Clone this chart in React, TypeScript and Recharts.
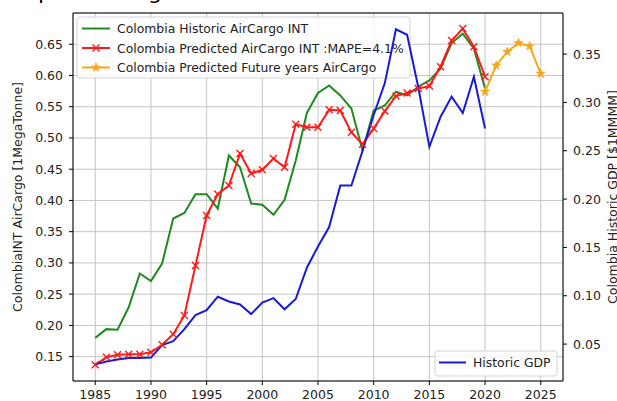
import React from 'react';
import { LineChart, Line, XAxis, YAxis, CartesianGrid, ReferenceLine, Customized } from 'recharts';

const years = [1985, 1986, 1987, 1988, 1989, 1990, 1991, 1992, 1993, 1994, 1995, 1996, 1997, 1998, 1999, 2000, 2001, 2002, 2003, 2004, 2005, 2006, 2007, 2008, 2009, 2010, 2011, 2012, 2013, 2014, 2015, 2016, 2017, 2018, 2019, 2020];
const historicAirCargo = [0.180, 0.194, 0.193, 0.229, 0.283, 0.271, 0.299, 0.371, 0.380, 0.410, 0.410, 0.387, 0.472, 0.453, 0.395, 0.393, 0.377, 0.401, 0.464, 0.540, 0.572, 0.584, 0.568, 0.547, 0.480, 0.544, 0.552, 0.574, 0.568, 0.582, 0.592, 0.611, 0.652, 0.667, 0.643, 0.579];
const predictedAirCargo = [0.137, 0.149, 0.153, 0.154, 0.154, 0.157, 0.169, 0.186, 0.216, 0.296, 0.376, 0.410, 0.424, 0.475, 0.443, 0.449, 0.467, 0.453, 0.522, 0.517, 0.517, 0.545, 0.544, 0.509, 0.490, 0.515, 0.543, 0.567, 0.572, 0.579, 0.583, 0.614, 0.656, 0.675, 0.646, 0.598];
const futureYears = [2020, 2021, 2022, 2023, 2024, 2025];
const futureAirCargo = [0.574, 0.616, 0.638, 0.652, 0.647, 0.603];
const historicGdp = [0.029, 0.032, 0.034, 0.0355, 0.0355, 0.036, 0.049, 0.053, 0.0655, 0.080, 0.085, 0.099, 0.094, 0.091, 0.081, 0.093, 0.0976, 0.086, 0.0966, 0.129, 0.151, 0.171, 0.214, 0.214, 0.250, 0.287, 0.320, 0.3756, 0.370, 0.316, 0.254, 0.285, 0.306, 0.289, 0.3265, 0.273];

const xTicks = [1985, 1990, 1995, 2000, 2005, 2010, 2015, 2020, 2025];
const leftTicks = [0.15, 0.2, 0.25, 0.3, 0.35, 0.4, 0.45, 0.5, 0.55, 0.6, 0.65];
const rightTicks = [0.05, 0.1, 0.15, 0.2, 0.25, 0.3, 0.35];

const seriesNames = {
  hist: 'Colombia Historic AirCargo INT',
  pred: 'Colombia Predicted AirCargo INT :MAPE=4.1%',
  future: 'Colombia Predicted Future years AirCargo',
  gdp: 'Historic GDP',
};
const yLabelLeft = 'ColombiaINT AirCargo [1MegaTonne]';
const yLabelRight = 'Colombia Historic GDP [$1MMMM]';

const allYears = Array.from(new Set([...years, ...futureYears])).sort((a, b) => a - b);
const data = allYears.map((yr) => {
  const i = years.indexOf(yr);
  const j = futureYears.indexOf(yr);
  return {
    year: yr,
    hist: i >= 0 ? historicAirCargo[i] : null,
    pred: i >= 0 ? predictedAirCargo[i] : null,
    gdp: i >= 0 ? historicGdp[i] : null,
    future: j >= 0 ? futureAirCargo[j] : null,
  };
});

const FONT = '"DejaVu Sans", sans-serif';
const GREEN = '#1f8a1f';
const RED = '#ff1a1a';
const ORANGE = '#f2a81d';
const BLUE = '#1a1ad6';

const XMark = ({ cx, cy, color }: any) => {
  const s = 3.5;
  return (
    <g>
      <line x1={cx - s} y1={cy - s} x2={cx + s} y2={cy + s} stroke={color} strokeWidth={1.4} />
      <line x1={cx - s} y1={cy + s} x2={cx + s} y2={cy - s} stroke={color} strokeWidth={1.4} />
    </g>
  );
};

const StarMark = ({ cx, cy, color }: any) => {
  const pts: string[] = [];
  for (let k = 0; k < 10; k++) {
    const r = k % 2 === 0 ? 5 : 2;
    const a = -Math.PI / 2 + (k * Math.PI) / 5;
    pts.push(`${cx + r * Math.cos(a)},${cy + r * Math.sin(a)}`);
  }
  return <polygon points={pts.join(' ')} fill={color} stroke={color} strokeWidth={0.5} />;
};

const redDot = (p: any) => {
  if (p.cx == null || p.cy == null || p.value == null) return <g key={`r${p.index}`} />;
  return <XMark key={`r${p.index}`} cx={p.cx} cy={p.cy} color={RED} />;
};
const orangeDot = (p: any) => {
  if (p.cx == null || p.cy == null || p.value == null) return <g key={`o${p.index}`} />;
  return <StarMark key={`o${p.index}`} cx={p.cx} cy={p.cy} color={ORANGE} />;
};

const Overlay = () => (
  <g fontFamily={FONT}>
    {/* clipped title descenders */}
    <text x={38} y={-1} fontSize={22} fill="#000">p</text>
    <text x={148} y={-1} fontSize={22} fill="#000">g</text>
    {/* axis labels */}
    <text x={17} y={197} transform="rotate(-90 17 197)" textAnchor="middle" dominantBaseline="central" fontSize={12.5} fill="#222">{yLabelLeft}</text>
    <text x={612} y={197} transform="rotate(-90 612 197)" textAnchor="middle" dominantBaseline="central" fontSize={12.5} fill="#222">{yLabelRight}</text>
    {/* upper left legend */}
    <rect x={77} y={17} width={333} height={61} rx={3} fill="#fff" fillOpacity={0.85} stroke="#d4d4d4" />
    <line x1={82} y1={28.5} x2={110} y2={28.5} stroke={GREEN} strokeWidth={2} />
    <text x={117} y={28.5} dominantBaseline="central" fontSize={12.4} fill="#222">{seriesNames.hist}</text>
    <line x1={82} y1={48} x2={110} y2={48} stroke={RED} strokeWidth={2} />
    <XMark cx={96} cy={48} color={RED} />
    <text x={117} y={48} dominantBaseline="central" fontSize={12.4} fill="#222">{seriesNames.pred}</text>
    <line x1={82} y1={67.5} x2={110} y2={67.5} stroke={ORANGE} strokeWidth={2} />
    <StarMark cx={96} cy={67.5} color={ORANGE} />
    <text x={117} y={67.5} dominantBaseline="central" fontSize={12.4} fill="#222">{seriesNames.future}</text>
    {/* lower right legend */}
    <rect x={435} y={351} width={122} height={25} rx={3} fill="#fff" fillOpacity={0.85} stroke="#d4d4d4" />
    <line x1={439} y1={362.5} x2={466} y2={362.5} stroke={BLUE} strokeWidth={2} />
    <text x={473} y={362.5} dominantBaseline="central" fontSize={12.4} fill="#222">{seriesNames.gdp}</text>
  </g>
);

const tickStyle = { fontSize: 12.5, fill: '#222', fontFamily: FONT };

export default function App() {
  return (
    <div style={{ position: 'absolute', left: 0, top: 0, width: 617, height: 401, background: '#fff' }}>
      <LineChart width={617} height={401} data={data} margin={{ top: 13, right: 0, bottom: 0, left: 0 }} style={{ overflow: 'visible' }}>
        <CartesianGrid yAxisId="left" stroke="#c4c4c4" strokeWidth={1} />
        <XAxis
          type="number"
          dataKey="year"
          domain={[1983, 2027]}
          ticks={xTicks}
          allowDataOverflow
          height={20}
          tickSize={4}
          tickMargin={5}
          tick={tickStyle}
          stroke="#000"
          axisLine={{ stroke: '#000' }}
          tickLine={{ stroke: '#000' }}
          interval={0}
        />
        <YAxis
          yAxisId="left"
          domain={[0.111, 0.7]}
          ticks={leftTicks}
          allowDataOverflow
          width={73}
          tickSize={4}
          tickMargin={6}
          tick={tickStyle}
          tickFormatter={(v: number) => v.toFixed(2)}
          axisLine={{ stroke: '#000' }}
          tickLine={{ stroke: '#000' }}
          interval={0}
        />
        <YAxis
          yAxisId="right"
          orientation="right"
          domain={[0.0118, 0.3925]}
          ticks={rightTicks}
          allowDataOverflow
          width={54}
          tickSize={4}
          tickMargin={6}
          tick={tickStyle}
          tickFormatter={(v: number) => v.toFixed(2)}
          axisLine={{ stroke: '#000' }}
          tickLine={{ stroke: '#000' }}
          interval={0}
        />
        <ReferenceLine yAxisId="left" y={0.7} stroke="#000" strokeWidth={1} ifOverflow="extendDomain" />
        <Line yAxisId="left" type="linear" dataKey="hist" stroke={GREEN} strokeWidth={2} dot={false} isAnimationActive={false} connectNulls={false} />
        <Line yAxisId="left" type="linear" dataKey="pred" stroke={RED} strokeWidth={2} dot={redDot} isAnimationActive={false} connectNulls={false} />
        <Line yAxisId="left" type="linear" dataKey="future" stroke={ORANGE} strokeWidth={2} dot={orangeDot} isAnimationActive={false} connectNulls={false} />
        <Line yAxisId="right" type="linear" dataKey="gdp" stroke={BLUE} strokeWidth={2} dot={false} isAnimationActive={false} connectNulls={false} />
        <Customized component={Overlay} />
      </LineChart>
    </div>
  );
}
